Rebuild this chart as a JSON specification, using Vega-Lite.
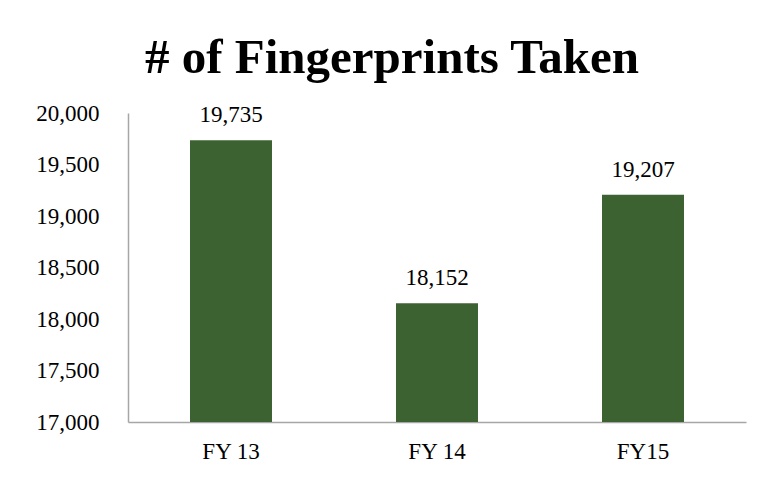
{
  "$schema": "https://vega.github.io/schema/vega-lite/v6.json",
  "autosize": {"type": "none"},
  "width": 618,
  "height": 309,
  "padding": {"left": 128, "top": 113, "right": 22, "bottom": 61},
  "background": "white",
  "title": {
    "text": "# of Fingerprints Taken",
    "font": "Liberation Serif",
    "fontSize": 49,
    "fontWeight": "bold",
    "color": "#000000",
    "anchor": "middle",
    "frame": "group",
    "dx": -45,
    "offset": 19
  },
  "data": {
    "values": [
      {"year": "FY 13", "count": 19735, "label": "19,735"},
      {"year": "FY 14", "count": 18152, "label": "18,152"},
      {"year": "FY15", "count": 19207, "label": "19,207"}
    ]
  },
  "encoding": {
    "x": {
      "field": "year",
      "type": "nominal",
      "sort": null,
      "scale": {"paddingInner": 0.602, "paddingOuter": 0.301},
      "axis": {
        "title": null,
        "labelAngle": 0,
        "labelFont": "Liberation Serif",
        "labelFontSize": 23,
        "labelColor": "#000000",
        "labelPadding": 18,
        "ticks": false,
        "domainColor": "#a6a6a6",
        "domainWidth": 1.5
      }
    },
    "y": {
      "field": "count",
      "type": "quantitative",
      "scale": {"domain": [17000, 20000], "zero": false, "nice": false},
      "axis": {
        "title": null,
        "values": [17000, 17500, 18000, 18500, 19000, 19500, 20000],
        "format": ",.0f",
        "labelFont": "Liberation Serif",
        "labelFontSize": 23,
        "labelColor": "#000000",
        "labelPadding": 29,
        "ticks": false,
        "grid": false,
        "domainColor": "#a6a6a6",
        "domainWidth": 1.5
      }
    }
  },
  "layer": [
    {
      "mark": {"type": "bar", "color": "#3c6232"},
      "encoding": {"y2": {"datum": 17000}}
    },
    {
      "mark": {
        "type": "text",
        "baseline": "alphabetic",
        "dy": -18,
        "font": "Liberation Serif",
        "fontSize": 23,
        "color": "#000000"
      },
      "encoding": {"text": {"field": "label"}}
    }
  ],
  "config": {"view": {"stroke": null}}
}
